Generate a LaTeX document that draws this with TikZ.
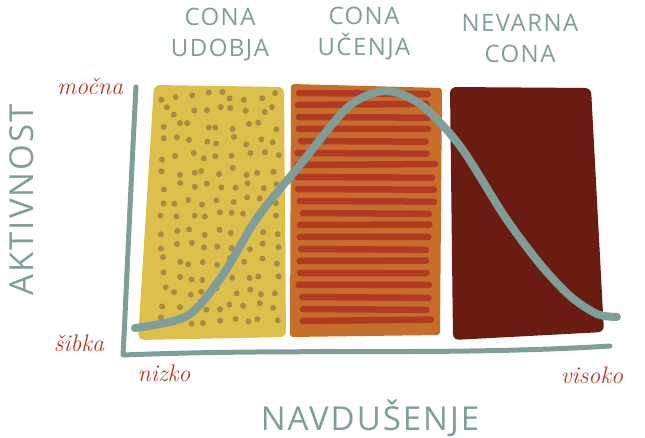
\documentclass[tikz,border=0pt]{standalone}
\usepackage{fontspec}
\newfontfamily\zonefont[LetterSpace=6]{Open Sans}
\usetikzlibrary{positioning}

\definecolor{tealgray}{HTML}{7F9E99}
\definecolor{handred}{HTML}{B23A22}
\definecolor{comfyellow}{HTML}{DDBF4B}
\definecolor{dotbrown}{HTML}{A88A45}
\definecolor{learnorange}{HTML}{C86E2B}
\definecolor{stripered}{HTML}{B13A25}
\definecolor{dangerbrown}{HTML}{6A1C11}

\tikzset{
  zonelabel/.style={text=tealgray, align=center, font=\zonefont\fontsize{24}{31}\selectfont},
  axislabel/.style={text=tealgray, font=\zonefont\fontsize{33}{36}\selectfont},
  scalelabel/.style={text=handred, font=\itshape\fontsize{24}{26}\selectfont},
  axisline/.style={draw=tealgray, line width=5pt, line cap=round, line join=round},
  curveline/.style={draw=tealgray, line width=8pt, line cap=round},
  stripe/.style={draw=stripered, line width=6.5pt, line cap=round}
}

\begin{document}
\begin{tikzpicture}[x=1pt, y=-1pt]
  \useasboundingbox (0,0) rectangle (645,438);

  % zones
  \fill[comfyellow, rounded corners=6] (154,85) -- (284,87) -- (286,337) -- (138,340) -- cycle;
  \fill[learnorange, rounded corners=3] (291,84) -- (442,88) -- (440,335) -- (290,337) -- cycle;
  \fill[dangerbrown, rounded corners=6] (450,87) -- (591,88) -- (604,332) -- (453,340) -- cycle;

  % dots in comfort zone
  \pgfmathsetseed{12}
  \foreach \col in {0,...,8} {
    \foreach \row in {0,...,15} {
      \fill[dotbrown] ({163+14*\col+4*rand},{96+15*\row+4*rand}) circle [radius=3pt];
    }
  }

  % stripes in learning zone
  \foreach \y in {93,105,...,330} {
    \pgfmathsetmacro{\xa}{300+3*rand}
    \pgfmathsetmacro{\xb}{430+5*rand}
    \draw[stripe] (\xa,\y) -- (\xb,{\y+1.5*rand});
  }

  % axes
  \coordinate (top) at (136,87);
  \coordinate (origin) at (123,355);
  \coordinate (right) at (610,346);
  \draw[axisline] (top) .. controls (130,200) and (126,300) .. (origin)
    .. controls (300,348) and (450,356) .. (right);

  % curve
  \draw[curveline] plot[smooth] coordinates {
    (135,328) (187,316) (222,276) (257,218) (300,165) (348,107) (385,91)
    (420,104) (460,146) (505,217) (540,264) (570,296) (597,314) (617,317)};

  % labels
  \node (comfort) [zonelabel] at (220,35) {CONA\\UDOBJA};
  \node (learning) [zonelabel] at (364,34) {CONA\\UČENJA};
  \node (danger) [zonelabel] at (520,39) {NEVARNA\\CONA};

  \node (activity) [axislabel, rotate=90] at (22,200) {AKTIVNOST};
  \node (enthusiasm) [axislabel] at (370,418) {NAVDUŠENJE};

  \node (strong) [scalelabel] at (90,86) {močna};
  \node (weak) [scalelabel] at (79,343) {šibka};
  \node (low) [scalelabel] at (164,373) {nizko};
  \node (high) [scalelabel] at (592,375) {visoko};
\end{tikzpicture}
\end{document}
